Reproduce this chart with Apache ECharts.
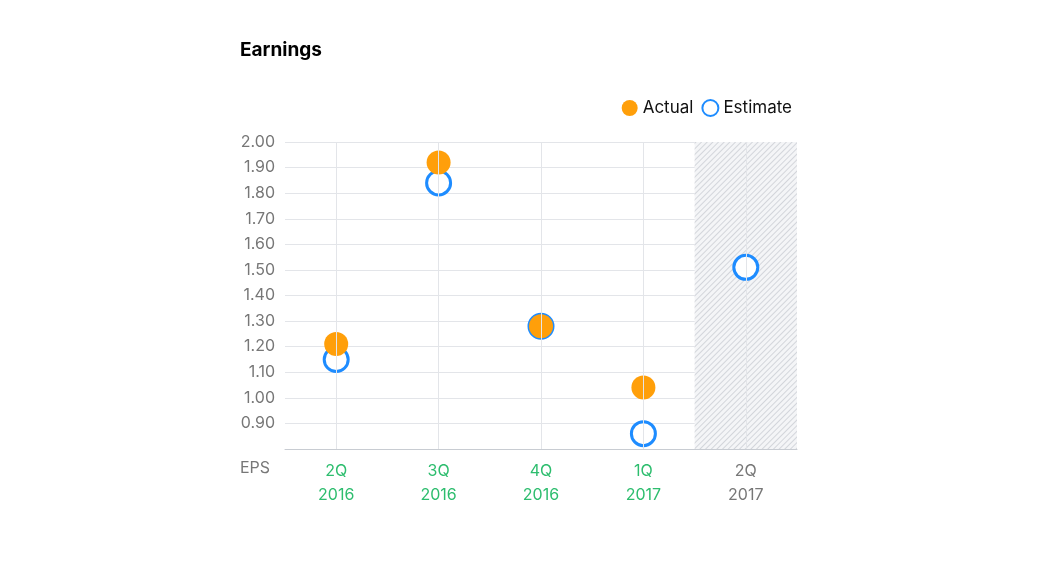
<!DOCTYPE html><html><head><meta charset="utf-8"><script src="https://cdn.jsdelivr.net/npm/echarts@6/dist/echarts.min.js"></script></head><body style="margin:0"><div id="c" style="width:1041px;height:572px"></div><script>
const categories=['2Q\n2016','3Q\n2016','4Q\n2016','1Q\n2017','2Q\n2017'];
const actual=[1.21,1.92,1.28,1.04,null];
const estimate=[1.15,1.84,1.28,0.86,1.51];
const futureBand=[null,null,null,null,2.0];
const ch=echarts.init(document.getElementById('c'));
ch.setOption({
animation:false,
title:{text:'Earnings',left:235,top:36,textStyle:{fontFamily:'Inter',fontSize:19,fontWeight:'bold',color:'#000'}},
legend:{right:244,top:94,itemGap:8,itemWidth:16,itemHeight:16,textStyle:{fontFamily:'Inter',fontSize:17,color:'#111'},data:[{name:'Actual',icon:'circle'},{name:'Estimate',icon:'circle'}]},
grid:{left:285,right:244,top:142,bottom:123},
xAxis:{type:'category',data:categories,axisTick:{show:false},axisLine:{lineStyle:{color:'#c8ccd2'}},splitLine:{show:false},
axisLabel:{fontFamily:'Inter',fontSize:16,lineHeight:24,margin:10,color:(v,i)=>i===4?'#777':'#2dbd6e'}},
yAxis:{type:'value',min:0.8,max:2.0,interval:0.1,axisLine:{show:false},axisTick:{show:false},splitLine:{lineStyle:{color:'#e3e5e9'}},
axisLabel:{fontFamily:'Inter',fontSize:16,color:'#777',margin:10,formatter:v=>v<0.85?'':v.toFixed(2)}},
graphic:[{type:'text',left:240,top:460,style:{text:'EPS',font:'16px Inter',fill:'#777'}}],
series:[
{type:'bar',data:futureBand,barWidth:'100%',silent:true,z:1,itemStyle:{color:'#f4f5f7',decal:{symbol:'rect',color:'rgba(150,155,165,0.35)',dashArrayX:[1,0],dashArrayY:[1,3],rotation:-Math.PI/4}},
 markLine:{silent:true,symbol:'none',label:{show:false},lineStyle:{color:'#e3e5e9',type:'solid',width:1},data:categories.map(c=>({xAxis:c}))}},
{name:'Estimate',type:'scatter',data:estimate,symbolSize:24,z:3,itemStyle:{color:'#fff',borderColor:'#1e8cff',borderWidth:3,opacity:1}},
{name:'Actual',type:'scatter',data:actual,symbolSize:24,z:4,itemStyle:{color:'#ff9f0a',opacity:1}}
]});
</script></body></html>
